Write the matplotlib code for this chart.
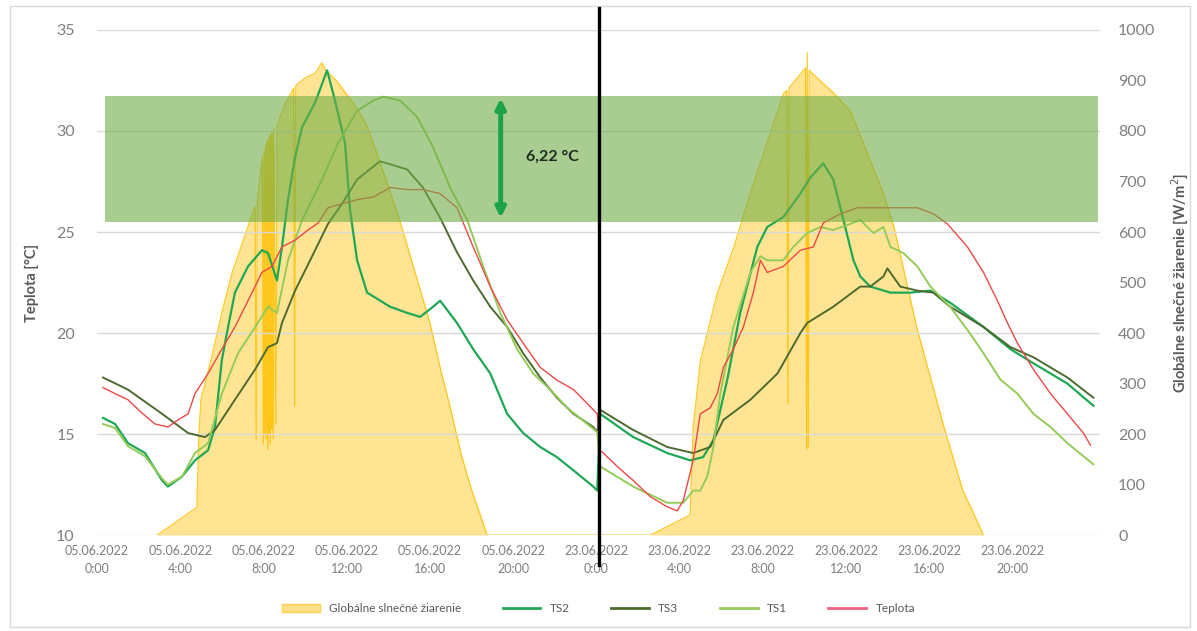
import matplotlib
matplotlib.use("Agg")
import matplotlib.pyplot as plt
from matplotlib.lines import Line2D
from matplotlib.patches import Patch, Rectangle

plt.rcParams['font.family'] = ['Lato', 'DejaVu Sans']

# hours since 05.06.2022 0:00 (second day = 23.06.2022, shown from hour 24 on)
day_labels = ['05.06.2022', '23.06.2022']
tick_hours = [0, 4, 8, 12, 16, 20, 24, 28, 32, 36, 40, 44]

# global solar irradiance [W/m2]
irr_h = [2.9, 4.8, 4.9, 5.0, 5.5, 6.0, 6.5, 7.0, 7.5, 7.6, 7.65, 7.7, 7.95, 8.0, 8.03, 8.07, 8.1,
         8.13, 8.17, 8.2, 8.23, 8.27, 8.3, 8.33, 8.37, 8.4, 8.43, 8.47, 8.5, 8.6, 8.65, 9.0,
         9.45, 9.5, 9.55, 10.0, 10.5, 10.8, 11.0, 11.5,
         12.0, 12.5, 13.0, 13.5, 14.0, 14.5, 15.0, 15.5, 16.0, 16.5, 17.0, 17.5, 18.0, 18.5, 18.75,
         26.6, 28.5, 28.65, 29.0, 29.8, 30.6, 31.4, 32.2, 33.0, 33.15, 33.2, 33.25, 34.05, 34.1,
         34.13, 34.18, 34.22, 35.4, 36.2, 37.8, 38.3, 39.4, 40.7, 41.6, 42.6]
irr_w = [0, 55, 200, 270, 350, 440, 520, 580, 640, 650, 190, 660, 750, 180, 760, 200, 770,
         190, 780, 170, 785, 200, 790, 180, 795, 210, 800, 190, 805, 220, 810, 850,
         885, 255, 890, 905, 915, 935, 920, 900,
         872, 845, 808, 750, 690, 630, 560, 490, 420, 330, 248, 160, 90, 30, 0,
         0, 40, 215, 345, 478, 570, 677, 776, 875, 880, 260, 885, 925, 170,
         955, 175, 920, 875, 840, 675, 610, 410, 214, 89, 0]

ts2_h = [0.29, 0.87, 1.49, 2.31, 3.13, 3.41, 4.09, 4.71, 5.34, 5.67, 6.0, 6.3, 6.63, 7.26, 7.93,
         8.22, 8.65, 8.89, 9.18, 9.52, 9.86, 10.48, 11.06, 11.44, 11.92, 12.16, 12.5, 12.98,
         14.09, 14.9, 15.53, 16.15, 16.49, 17.3, 18.08, 18.9, 19.71, 20.48, 21.3, 22.1, 22.9,
         23.85, 24.04,
         24.18, 25.77, 27.4, 28.51, 29.13, 29.62, 30.29, 30.91, 31.73, 32.21, 32.98, 33.8, 34.28,
         34.9, 35.38, 35.87, 36.35, 36.68, 37.16, 38.13, 39.09, 40.05, 41.0, 42.6, 43.9, 45.0,
         46.63, 47.88]
ts2_t = [15.8, 15.5, 14.55, 14.06, 12.7, 12.4, 12.9, 13.7, 14.2, 15.35, 18.66, 20.3, 22.0, 23.3, 24.1,
         23.96, 22.6, 24.26, 26.6, 28.7, 30.2, 31.4, 33.0, 31.5, 29.4, 26.1, 23.6, 22.0,
         21.3, 21.0, 20.8, 21.3, 21.6, 20.5, 19.2, 18.0, 16.0, 15.05, 14.36, 13.86, 13.2,
         12.4, 12.2,
         16.0, 14.85, 14.06, 13.7, 13.86, 14.7, 17.7, 21.0, 24.26, 25.25, 25.74, 26.9, 27.7,
         28.4, 27.6, 25.6, 23.6, 22.8, 22.3, 22.0, 22.0, 22.1, 21.5, 20.3, 19.2, 18.5,
         17.5, 16.4]

ts3_h = [0.29, 1.49, 3.13, 4.38, 5.19, 5.67, 6.63, 7.6, 8.22, 8.65, 8.89, 9.52, 10.34, 11.1, 11.78,
         12.5, 13.6, 14.9, 15.67, 16.49, 17.3, 18.08, 18.9, 19.71, 20.48, 21.3, 22.1, 22.9, 23.85,
         24.04,
         24.18, 25.77, 27.4, 28.65, 29.47, 30.1, 31.4, 32.7, 33.8, 34.13, 35.38, 36.68, 37.16,
         37.79, 37.98, 38.6, 39.42, 40.19, 41.0, 42.6, 43.9, 45.0, 46.63, 47.88]
ts3_t = [17.8, 17.2, 16.0, 15.05, 14.85, 15.2, 16.7, 18.2, 19.3, 19.5, 20.5, 22.1, 23.8, 25.4, 26.4,
         27.6, 28.5, 28.1, 27.2, 25.7, 24.0, 22.6, 21.3, 20.3, 19.0, 17.8, 16.8, 16.0, 15.35,
         15.1,
         16.2, 15.2, 14.36, 14.06, 14.36, 15.7, 16.7, 18.0, 20.0, 20.5, 21.3, 22.3, 22.3,
         22.8, 23.2, 22.3, 22.1, 22.0, 21.3, 20.3, 19.3, 18.8, 17.8, 16.8]

ts1_h = [0.29, 0.87, 1.49, 2.31, 3.13, 3.41, 4.09, 4.71, 5.34, 6.0, 6.78, 7.6, 8.22, 8.65, 9.18,
         9.86, 10.82, 11.59, 12.5, 13.27, 13.75, 14.57, 15.38, 16.15, 16.97, 17.79, 18.56, 19.38,
         20.19, 20.96, 21.78, 22.6, 23.56, 24.04,
         24.18, 25.77, 27.4, 28.17, 28.65, 28.99, 29.33, 29.62, 29.95, 30.58, 31.4, 31.88, 32.21,
         32.98, 33.46, 34.13, 34.76, 35.38, 36.2, 36.68, 37.31, 37.79, 38.13, 38.75, 39.42, 40.05,
         41.0, 41.83, 42.6, 43.41, 44.23, 45.0, 45.82, 46.63, 47.88]
ts1_t = [15.5, 15.3, 14.4, 13.9, 12.8, 12.5, 12.9, 14.06, 14.55, 17.0, 19.0, 20.3, 21.3, 21.0, 23.6,
         25.6, 27.6, 29.4, 31.0, 31.5, 31.7, 31.5, 30.7, 29.2, 27.2, 25.6, 23.3, 21.0,
         19.2, 18.0, 17.2, 16.3, 15.5, 15.1,
         13.4, 12.4, 11.6, 11.6, 12.2, 12.2, 12.9, 14.36, 17.0, 20.3, 23.0, 23.8, 23.6,
         23.6, 24.26, 24.95, 25.25, 25.1, 25.4, 25.6, 24.95, 25.25, 24.26, 23.96, 23.3, 22.3,
         21.3, 20.15, 19.0, 17.7, 17.0, 16.0, 15.35, 14.55, 13.5]

tep_h = [0.29, 0.87, 1.49, 2.16, 2.79, 3.41, 3.89, 4.38, 4.71, 5.34, 6.0, 6.63, 7.26, 7.93, 8.41,
         8.89, 9.52, 10.14, 10.63, 11.1, 11.78, 12.5, 13.27, 14.09, 14.9, 15.67, 16.49, 17.3,
         18.08, 18.9, 19.71, 20.48, 21.3, 22.1, 22.9, 23.85, 24.04,
         24.18, 25.0, 25.77, 26.59, 27.4, 27.88, 28.17, 28.65, 28.99, 29.47, 29.81, 30.1, 30.58,
         31.06, 31.54, 31.88, 32.21, 32.98, 33.8, 34.42, 34.9, 35.72, 36.54, 37.79, 39.42, 40.19,
         40.87, 41.83, 42.6, 43.27, 43.75, 44.23, 45.0, 45.82, 46.63, 47.4, 47.74]
tep_t = [17.3, 17.0, 16.7, 16.04, 15.5, 15.35, 15.7, 16.0, 17.0, 18.0, 19.2, 20.3, 21.6, 23.0, 23.3,
         24.26, 24.6, 25.1, 25.45, 26.2, 26.4, 26.6, 26.73, 27.2, 27.1, 27.1, 26.9, 26.2,
         24.26, 22.3, 20.65, 19.5, 18.3, 17.67, 17.2, 16.2, 16.0,
         14.2, 13.4, 12.7, 11.9, 11.4, 11.2, 11.7, 13.7, 16.0, 16.3, 17.0, 18.3, 19.2,
         20.3, 22.0, 23.6, 23.0, 23.3, 24.1, 24.26, 25.45, 25.9, 26.2, 26.2, 26.2, 25.9,
         25.4, 24.26, 23.0, 21.6, 20.5, 19.5, 18.2, 17.0, 16.0, 15.05, 14.45]

band_low, band_high = 25.5, 31.72
band_h = [0.38, 48.1]
arrow_h = 19.4

c_irr_fill = '#FFC000'
c_ts2 = '#1EA855'
c_ts3 = '#4D6B2F'
c_ts1 = '#93CC58'
c_tep = '#F04848'
c_text = '#595959'

fig = plt.figure(figsize=(11.97, 6.31), dpi=100)
ax = fig.add_axes([0.081, 0.152, 0.838, 0.8005])
ax2 = ax.twinx()
ax.set_zorder(ax2.get_zorder() + 1)
ax.patch.set_visible(False)

# irradiance area on the secondary axis
ax2.fill_between(irr_h, 0, irr_w, color=c_irr_fill, alpha=0.42, lw=0)
ax2.plot(irr_h, irr_w, color='#FFC000', lw=0.9, alpha=0.85)
ax2.set_ylim(0, 1000)
ax2.set_yticks(range(0, 1001, 100))

# temperatures
ax.plot(ts2_h, ts2_t, color=c_ts2, lw=1.6, zorder=2)
ax.plot(ts3_h, ts3_t, color=c_ts3, lw=1.4, zorder=2)
ax.plot(ts1_h, ts1_t, color=c_ts1, lw=1.4, zorder=2)
ax.plot(tep_h, tep_t, color=c_tep, lw=1.0, zorder=2)

ax.fill_between(band_h, band_low, band_high, color='#70AD47', alpha=0.6, lw=0, zorder=3)
ax.annotate('', xy=(arrow_h, band_high - 0.1), xytext=(arrow_h, band_low + 0.2),
            arrowprops=dict(arrowstyle='<|-|>', color='#1AA34A', lw=3.5, mutation_scale=14,
                            shrinkA=0, shrinkB=0), zorder=4)
ax.text(arrow_h + 1.2, (band_low + band_high) / 2 + 0.1,
        '{:.2f} °C'.format(band_high - band_low).replace('.', ','),
        fontsize=11.5, fontweight='bold', color='#1E2B1E', va='center', ha='left', zorder=5)

ax.set_xlim(0, 48.2)
ax.set_ylim(10, 35)
ax.set_yticks(range(10, 36, 5))
ax.set_xticks(tick_hours)
ax.set_xticklabels(['{}\n{}:00'.format(day_labels[h // 24], h % 24) for h in tick_hours],
                   linespacing=1.6)
ax.yaxis.grid(True, color='#D9D9D9', lw=1)
ax.set_axisbelow(True)

for a in (ax, ax2):
    for s in a.spines.values():
        s.set_visible(False)
ax.tick_params(axis='x', length=0, pad=7, labelsize=9, labelcolor='#7F7F7F')
ax.tick_params(axis='y', length=0, pad=16, labelsize=11.5, labelcolor='#7F7F7F')
ax2.tick_params(axis='y', length=0, pad=13, labelsize=11.5, labelcolor='#7F7F7F')

ax.set_ylabel('Teplota [°C]', fontsize=10.5, fontweight='bold', color=c_text, labelpad=12)
ax2.set_ylabel('Globálne slnečné žiarenie [W/m$^2$]', fontsize=10.5, fontweight='bold',
               color=c_text, labelpad=10)

handles = [Patch(facecolor='#FFE08A', edgecolor='#FFD050'),
           Line2D([], [], color=c_ts2, lw=2),
           Line2D([], [], color=c_ts3, lw=2),
           Line2D([], [], color=c_ts1, lw=2),
           Line2D([], [], color='#F06080', lw=2)]
fig.legend(handles, ['Globálne slnečné žiarenie', 'TS2', 'TS3', 'TS1', 'Teplota'],
           loc='center', bbox_to_anchor=(0.5, 0.036), ncol=5, frameon=False,
           fontsize=8.5, labelcolor=c_text, handlelength=3.2, columnspacing=3.5)

# chart frame and the black separator between the two days
fig.add_artist(Rectangle((10 / 1197, 4 / 631), 1180 / 1197, 621 / 631, fill=False,
                         edgecolor='#D9D9D9', lw=1, transform=fig.transFigure))
fig.add_artist(Line2D([599 / 1197, 599 / 1197], [1 - 8 / 631, 1 - 565 / 631],
                      color='black', lw=2.4, transform=fig.transFigure))

fig.savefig('out.png', dpi=100)
